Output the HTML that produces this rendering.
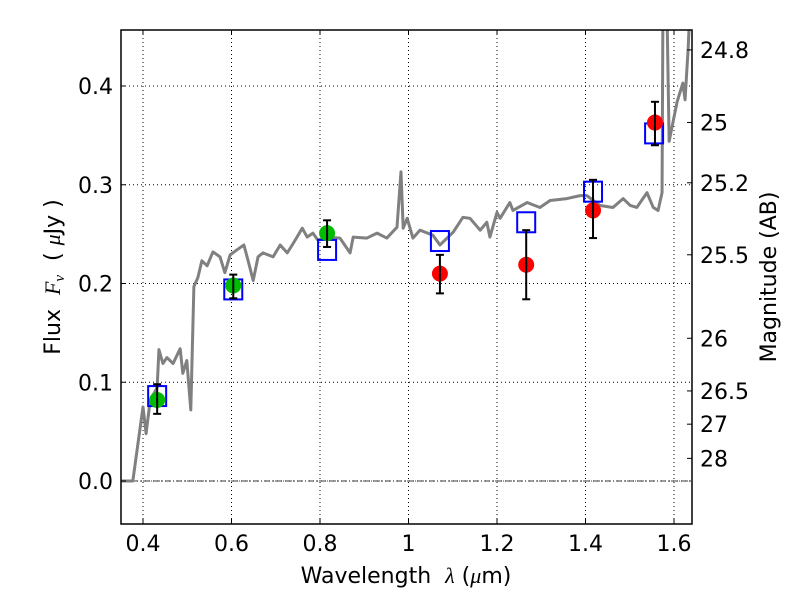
<!DOCTYPE html>
<html><head><meta charset="utf-8"><style>
body{margin:0;background:#fff}
svg{display:block;font-family:"DejaVu Sans","Liberation Sans",sans-serif}
</style></head><body>
<svg id="c" width="800" height="600"></svg>
<script>
const specWave=[0.350,0.377,0.400,0.407,0.416,0.432,0.436,0.445,0.454,0.468,0.484,0.490,0.499,0.508,0.515,0.524,0.533,0.545,0.558,0.574,0.585,0.597,0.612,0.628,0.637,0.649,0.660,0.671,0.694,0.710,0.726,0.740,0.760,0.771,0.784,0.795,0.816,0.845,0.868,0.875,0.906,0.929,0.951,0.974,0.983,0.988,0.997,1.010,1.026,1.055,1.071,1.101,1.123,1.139,1.162,1.177,1.184,1.200,1.207,1.229,1.236,1.268,1.297,1.320,1.358,1.388,1.403,1.433,1.462,1.485,1.501,1.516,1.539,1.553,1.564,1.573,1.575,1.584,1.589,1.607,1.620,1.625,1.632,1.636];
const specFlux=[0,0,0.075,0.048,0.081,0.095,0.133,0.119,0.125,0.119,0.134,0.109,0.122,0.072,0.197,0.206,0.223,0.218,0.232,0.227,0.211,0.229,0.234,0.239,0.224,0.203,0.227,0.231,0.227,0.239,0.231,0.241,0.256,0.247,0.251,0.244,0.247,0.246,0.231,0.247,0.246,0.251,0.246,0.257,0.313,0.256,0.266,0.246,0.254,0.249,0.239,0.252,0.267,0.266,0.254,0.262,0.247,0.272,0.266,0.282,0.274,0.282,0.277,0.284,0.286,0.289,0.289,0.279,0.277,0.286,0.279,0.277,0.292,0.277,0.274,0.292,0.48,0.48,0.344,0.384,0.403,0.386,0.438,0.48];
const greenWave=[0.432,0.604,0.816];
const greenFlux=[0.082,0.198,0.251];
const greenLo=[0.068,0.185,0.237];
const greenHi=[0.098,0.209,0.264];
const redWave=[1.071,1.266,1.417,1.557];
const redFlux=[0.210,0.219,0.274,0.363];
const redLo=[0.190,0.184,0.246,0.340];
const redHi=[0.229,0.254,0.305,0.384];
const modelWave=[0.432,0.604,0.816,1.071,1.266,1.417,1.555];
const modelFlux=[0.086,0.194,0.234,0.243,0.262,0.293,0.352];
const xTicks=[0.4,0.6,0.8,1.0,1.2,1.4,1.6];
const xTickLabels=["0.4","0.6","0.8","1","1.2","1.4","1.6"];
const yTicks=[0.0,0.1,0.2,0.3,0.4];
const yTickLabels=["0.0","0.1","0.2","0.3","0.4"];
const magTicks=[24.8,25,25.2,25.5,26,26.5,27,28];
const magTickLabels=["24.8","25","25.2","25.5","26","26.5","27","28"];

const L=121,R=692,T=30,B=524;
const X=v=>143+(v-0.4)*442.5;
const Y=v=>481-v*987.5;
const NS="http://www.w3.org/2000/svg";
const svg=document.getElementById('c');
function mk(tag,attrs,parent){const e=document.createElementNS(NS,tag);for(const k in attrs)e.setAttribute(k,attrs[k]);(parent||svg).appendChild(e);return e;}

const defs=mk('defs',{});
const cp=mk('clipPath',{id:'clip'},defs);
mk('rect',{x:L,y:T,width:R-L,height:B-T},cp);

const grid=mk('g',{stroke:'#000','stroke-width':1,'stroke-dasharray':'1,3'});


xTicks.forEach(v=>mk('line',{x1:X(v),x2:X(v),y1:T,y2:B},grid));
yTicks.forEach(v=>mk('line',{x1:L,x2:R,y1:Y(v),y2:Y(v)},grid));

const zl=mk('line',{x1:L,x2:R,y1:Y(0),y2:Y(0),stroke:'#000','stroke-width':0.8,'stroke-dasharray':'6,2,1,2'});



const plot=mk('g',{'clip-path':'url(#clip)'});
const sp=mk('polyline',{points:specWave.map((w,i)=>X(w)+','+Y(specFlux[i])).join(' '),fill:'none',stroke:'#808080','stroke-width':3,'stroke-linejoin':'round'},plot);



modelWave.forEach((w,i)=>{
  const r=mk('rect',{x:X(w)-9,y:Y(modelFlux[i])-10,width:18,height:20,fill:'none',stroke:'#0000ff','stroke-width':2},plot);
  
  
});
function pts(ws,fs,lo,hi,col,name){
  ws.forEach((w,i)=>{
    const c=mk('circle',{cx:X(w),cy:Y(fs[i]),r:8,fill:col},plot);
    
    
    const g=mk('g',{stroke:'#000','stroke-width':2},plot);
    
    
    mk('line',{x1:X(w),x2:X(w),y1:Y(lo[i]),y2:Y(hi[i])},g);
    mk('line',{x1:X(w)-4,x2:X(w)+4,y1:Y(lo[i]),y2:Y(lo[i])},g);
    mk('line',{x1:X(w)-4,x2:X(w)+4,y1:Y(hi[i]),y2:Y(hi[i])},g);
  });
}
pts(greenWave,greenFlux,greenLo,greenHi,'#00bb00','green-data-point');
pts(redWave,redFlux,redLo,redHi,'#ff0000','red-data-point');

const fr=mk('rect',{x:L,y:T,width:R-L,height:B-T,fill:'none',stroke:'#000','stroke-width':1.5});



xTicks.forEach((v,i)=>{
  mk('line',{x1:X(v),x2:X(v),y1:B,y2:B-5,stroke:'#000'});
  mk('line',{x1:X(v),x2:X(v),y1:T,y2:T+5,stroke:'#000'});
  const t=mk('text',{x:X(v),y:B+27,'text-anchor':'middle','font-size':22});
  t.textContent=xTickLabels[i];
  
  
});
yTicks.forEach((v,i)=>{
  mk('line',{x1:L,x2:L+5,y1:Y(v),y2:Y(v),stroke:'#000'});
  const t=mk('text',{x:L-8,y:Y(v)+8,'text-anchor':'end','font-size':22});
  t.textContent=yTickLabels[i];
  
  
});
magTicks.forEach((m,i)=>{
  const f=Math.pow(10,(23.9-m)/2.5);
  const y=Y(f);
  mk('line',{x1:R,x2:R-5,y1:y,y2:y,stroke:'#000'});
  const t=mk('text',{x:R+8,y:y+8,'font-size':22});
  t.textContent=magTickLabels[i];
  
  
});
const xt=mk('text',{x:406,y:583,'text-anchor':'middle','font-size':22});
xt.innerHTML='Wavelength &#160;<tspan font-family="Liberation Serif" font-style="italic">λ</tspan> (<tspan font-family="Liberation Serif" font-style="italic">μ</tspan>m)';


const yt=mk('text',{x:0,y:0,'text-anchor':'middle','font-size':22,transform:'translate(60,277) rotate(-90)'});
yt.innerHTML='Flux &#160;<tspan font-family="Liberation Serif" font-style="italic">F<tspan font-size="15" dy="4">ν</tspan></tspan><tspan dy="-4"> &#160;( </tspan><tspan font-family="Liberation Serif" font-style="italic">μ</tspan>Jy )';


const yr=mk('text',{x:0,y:0,'text-anchor':'middle','font-size':22,transform:'translate(776,277) rotate(-90)'});
yr.textContent='Magnitude (AB)';


</script>
</body></html>
